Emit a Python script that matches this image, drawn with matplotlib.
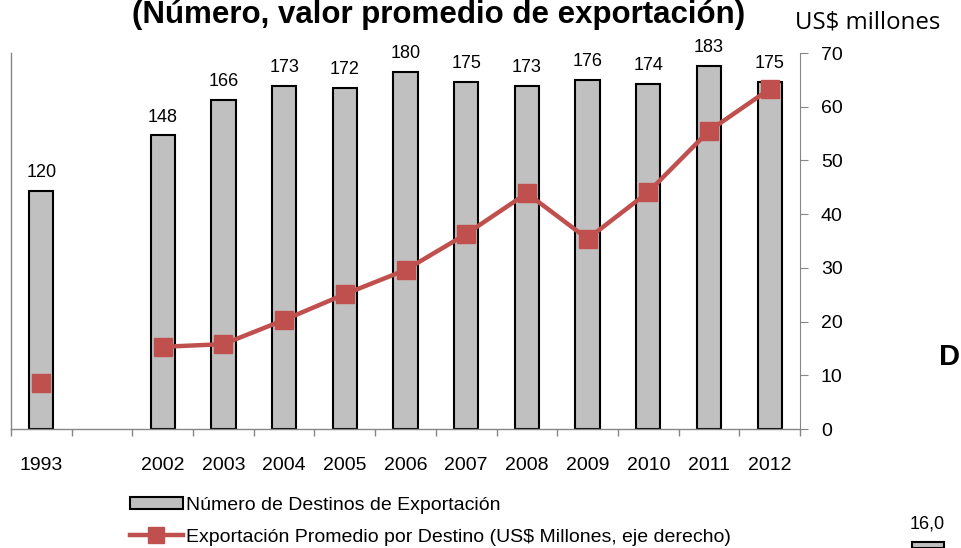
import numpy as np
import matplotlib.pyplot as plt
from matplotlib.patches import Patch, Rectangle
from matplotlib.lines import Line2D

plt.rcParams['font.family'] = ['Liberation Sans', 'DejaVu Sans']

years = ["1993", "", "2002", "2003", "2004", "2005", "2006", "2007",
         "2008", "2009", "2010", "2011", "2012"]
destinos = [120, None, 148, 166, 173, 172, 180, 175, 173, 176, 174, 183, 175]
promedio = [8.6, None, 15.3, 15.8, 20.3, 25.1, 29.6, 36.3, 43.9, 35.4, 44.1, 55.5, 63.3]

bar_color = "#C0C0C0"
line_color = "#C0504D"
axis_gray = "#868686"

fig = plt.figure(figsize=(9.61, 5.48), dpi=100)
ax = fig.add_axes([11 / 961, 1 - 429 / 548, 789 / 961, 376 / 548])
ax2 = ax.twinx()

x = np.arange(len(years))
bx = [i for i, v in zip(x, destinos) if v is not None]
bv = [v for v in destinos if v is not None]
ax.bar(bx, bv, width=0.4, color=bar_color, edgecolor="black", linewidth=1.5, zorder=2)
for xi, v in zip(bx, bv):
    ax.annotate(str(v), (xi, v), xytext=(0, 7), textcoords="offset points",
                ha="center", va="bottom", fontsize=13)

ax.set_xlim(-0.5, len(years) - 0.5)
ax.set_ylim(0, 189.5)
ax.set_yticks([])
ax.set_xticks(x)
ax.set_xticklabels(years, fontsize=14)
ax.set_xticks(np.arange(-0.5, len(years)), minor=True)
ax.tick_params(axis="x", which="major", length=0, pad=20)
ax.tick_params(axis="x", which="minor", length=5, color=axis_gray, width=1)
for s in ["top", "right"]:
    ax.spines[s].set_visible(False)
for s in ["left", "bottom"]:
    ax.spines[s].set_color(axis_gray)
    ax.spines[s].set_linewidth(1)

# exportación promedio on the right axis (1993 stands alone, no link)
ax2.plot(x[:1], promedio[:1], color=line_color, marker="s", markersize=13, linestyle="none")
ax2.plot(x[2:], promedio[2:], color=line_color, linewidth=3.2, marker="s", markersize=13)
ax2.set_ylim(0, 70)
ax2.set_yticks(range(0, 71, 10))
ax2.tick_params(axis="y", length=6, color=axis_gray, labelsize=14, pad=9)
for s in ["top", "left", "bottom"]:
    ax2.spines[s].set_visible(False)
ax2.spines["right"].set_color(axis_gray)
ax.set_zorder(ax2.get_zorder() - 1)
ax2.patch.set_visible(False)

fig.text(439 / 961, 1 - 23 / 548, "(Número, valor promedio de exportación)",
         ha="center", va="baseline", fontsize=22.5, fontweight="bold")
fig.text(795 / 961, 1 - 29 / 548, "US$ millones", family=["Open Sans", "DejaVu Sans"],
         ha="left", va="baseline", fontsize=17.3)
fig.text(960 / 961, 1 - 365 / 548, "D", ha="right", va="baseline", fontsize=21, fontweight="bold")
fig.text(927 / 961, 1 - 524 / 548, "16,0", ha="center", va="center", fontsize=13)
fig.patches.append(Rectangle((912 / 961, 0), 32 / 961, 6 / 548, transform=fig.transFigure,
                             facecolor=bar_color, edgecolor="black", linewidth=1.5))

handles = [Patch(facecolor=bar_color, edgecolor="black", linewidth=1.5),
           Line2D([], [], color=line_color, linewidth=3.2, marker="s", markersize=11)]
labels = ["Número de Destinos de Exportación",
          "Exportación Promedio por Destino (US$ Millones, eje derecho)"]
fig.legend(handles, labels, loc="upper left", bbox_to_anchor=(130 / 961, 1 - 497 / 548),
           frameon=False, fontsize=14, handlelength=2.7, handleheight=0.6,
           handletextpad=0.2, labelspacing=0.75, borderpad=0, borderaxespad=0)

fig.savefig("out.png", dpi=100)
